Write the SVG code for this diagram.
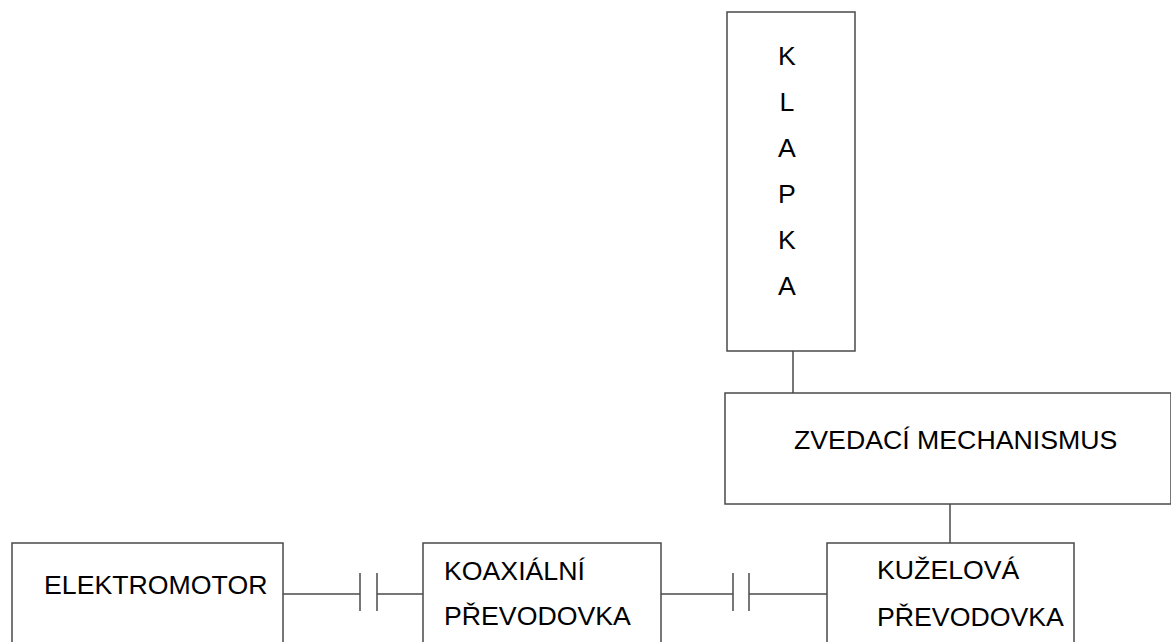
<svg xmlns="http://www.w3.org/2000/svg" width="1171" height="642" viewBox="0 0 1171 642">
<style>
.box{fill:#fff;stroke:#4a4a4a;stroke-width:1.5}
.ln{fill:none;stroke:#4a4a4a;stroke-width:1.5}
text{font-family:"Liberation Sans",Arial,sans-serif;font-size:26.7px;fill:#000}
.c{text-anchor:middle}
</style>
<rect width="1171" height="642" fill="#fff"/>
<g id="connectors">
<line class="ln" x1="793" y1="351" x2="793" y2="393"/>
<line class="ln" x1="950" y1="504" x2="950" y2="543"/>
<line class="ln" x1="283" y1="594" x2="360" y2="594"/>
<line class="ln" x1="360" y1="573" x2="360" y2="611"/>
<line class="ln" x1="377" y1="573" x2="377" y2="611"/>
<line class="ln" x1="377" y1="594" x2="423" y2="594"/>
<line class="ln" x1="661" y1="594" x2="733" y2="594"/>
<line class="ln" x1="733" y1="573" x2="733" y2="611"/>
<line class="ln" x1="749" y1="573" x2="749" y2="611"/>
<line class="ln" x1="749" y1="594" x2="827" y2="594"/>
</g>
<g id="klapka">
<rect class="box" x="727" y="12" width="128" height="339"/>
<text class="c" x="787" y="65">K</text>
<text class="c" x="787" y="111">L</text>
<text class="c" x="787" y="157">A</text>
<text class="c" x="787" y="203">P</text>
<text class="c" x="787" y="249">K</text>
<text class="c" x="787" y="295">A</text>
</g>
<g id="zvedaci">
<rect class="box" x="725" y="393" width="446" height="111"/>
<text x="794" y="449">ZVEDACÍ MECHANISMUS</text>
</g>
<g id="elektromotor">
<rect class="box" x="12" y="543" width="271" height="110"/>
<text x="44" y="594">ELEKTROMOTOR</text>
</g>
<g id="koaxialni">
<rect class="box" x="423" y="543" width="238" height="110"/>
<text x="444" y="580">KOAXIÁLNÍ</text>
<text x="444" y="625">PŘEVODOVKA</text>
</g>
<g id="kuzelova">
<rect class="box" x="827" y="543" width="247" height="110"/>
<text x="877" y="579">KUŽELOVÁ</text>
<text x="877" y="626">PŘEVODOVKA</text>
</g>
</svg>
